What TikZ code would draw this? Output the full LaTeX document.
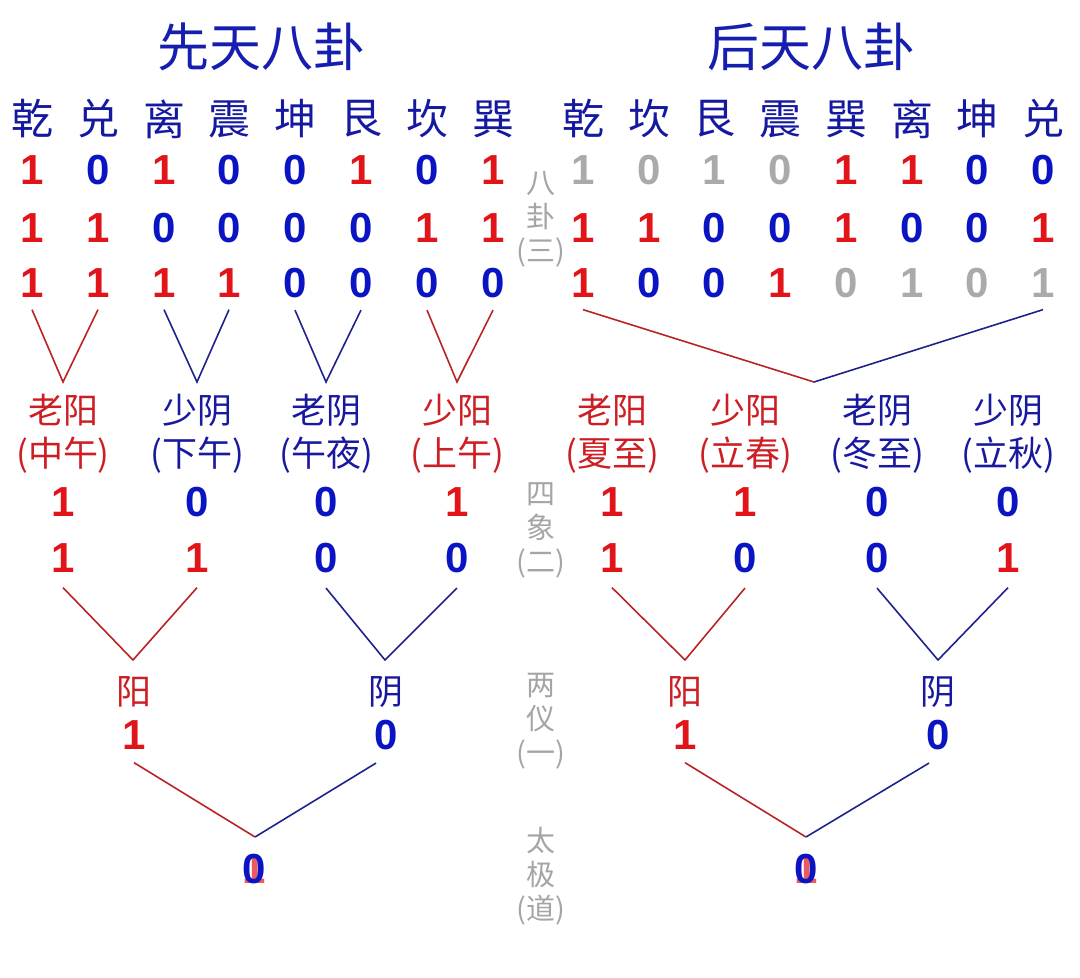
\documentclass[tikz,border=0pt]{standalone}
\usepackage{fontspec}
\setmainfont{Liberation Sans}
\newfontfamily\cjk{Noto Sans CJK SC}
\usepackage{tikz}
\usetikzlibrary{positioning}

\definecolor{titleblue}{RGB}{22,30,175}
\definecolor{nameblue}{RGB}{20,25,160}
\definecolor{numred}{RGB}{225,20,25}
\definecolor{numblue}{RGB}{10,20,195}
\definecolor{fadegray}{RGB}{170,170,170}
\definecolor{labred}{RGB}{205,30,35}
\definecolor{labblue}{RGB}{25,25,160}
\definecolor{linered}{RGB}{185,35,35}
\definecolor{lineblue}{RGB}{30,35,140}
\definecolor{sidegray}{RGB}{165,165,165}

\begin{document}
\begin{tikzpicture}[x=1pt, y=-1pt,
            titel/.style={font=\cjk\fontsize{52}{60}\selectfont, text=titleblue, inner sep=0pt},
            gua/.style={font=\cjk\fontsize{42}{48}\selectfont, text=nameblue, inner sep=0pt},
            yangnum/.style={font=\bfseries\fontsize{42}{48}\selectfont, text=numred, inner sep=0pt},
            yinnum/.style={font=\bfseries\fontsize{42}{48}\selectfont, text=numblue, inner sep=0pt},
            greynum/.style={font=\bfseries\fontsize{42}{48}\selectfont, text=fadegray, inner sep=0pt},
            xiang/.style={font=\cjk\fontsize{35}{43}\selectfont, align=center, inner sep=0pt},
            side/.style={font=\cjk\fontsize{29}{34}\selectfont, text=sidegray, align=center, inner sep=0pt},
            redline/.style={draw=linered, line width=1.6pt},
            blueline/.style={draw=lineblue, line width=1.6pt}
        ]
        \useasboundingbox (0,0) rectangle (1080,978);

        % Titel
        \node[titel] (xtitle) at (261,47) {先天八卦};
        \node[titel] (htitle) at (811,47) {后天八卦};

        % Namen (Xiantian)
        \node[gua] (xg1) at (32,119) {乾};
        \node[gua] (xg2) at (98,119) {兑};
        \node[gua] (xg3) at (164,119) {离};
        \node[gua] (xg4) at (229,119) {震};
        \node[gua] (xg5) at (295,119) {坤};
        \node[gua] (xg6) at (361,119) {艮};
        \node[gua] (xg7) at (427,119) {坎};
        \node[gua] (xg8) at (493,119) {巽};

        % Namen (Houtian)
        \node[gua] (hg1) at (583,119) {乾};
        \node[gua] (hg2) at (649,119) {坎};
        \node[gua] (hg3) at (714,119) {艮};
        \node[gua] (hg4) at (780,119) {震};
        \node[gua] (hg5) at (846,119) {巽};
        \node[gua] (hg6) at (912,119) {离};
        \node[gua] (hg7) at (977,119) {坤};
        \node[gua] (hg8) at (1043,119) {兑};

        % Ziffern (Xiantian)
        \node[yangnum] (xa1) at (32,170) {1};
        \node[yinnum] (xa2) at (98,170) {0};
        \node[yangnum] (xa3) at (164,170) {1};
        \node[yinnum] (xa4) at (229,170) {0};
        \node[yinnum] (xa5) at (295,170) {0};
        \node[yangnum] (xa6) at (361,170) {1};
        \node[yinnum] (xa7) at (427,170) {0};
        \node[yangnum] (xa8) at (493,170) {1};
        \node[yangnum] (xb1) at (32,228) {1};
        \node[yangnum] (xb2) at (98,228) {1};
        \node[yinnum] (xb3) at (164,228) {0};
        \node[yinnum] (xb4) at (229,228) {0};
        \node[yinnum] (xb5) at (295,228) {0};
        \node[yinnum] (xb6) at (361,228) {0};
        \node[yangnum] (xb7) at (427,228) {1};
        \node[yangnum] (xb8) at (493,228) {1};
        \node[yangnum] (xc1) at (32,283) {1};
        \node[yangnum] (xc2) at (98,283) {1};
        \node[yangnum] (xc3) at (164,283) {1};
        \node[yangnum] (xc4) at (229,283) {1};
        \node[yinnum] (xc5) at (295,283) {0};
        \node[yinnum] (xc6) at (361,283) {0};
        \node[yinnum] (xc7) at (427,283) {0};
        \node[yinnum] (xc8) at (493,283) {0};

        % Ziffern (Houtian)
        \node[greynum] (ha1) at (583,170) {1};
        \node[greynum] (ha2) at (649,170) {0};
        \node[greynum] (ha3) at (714,170) {1};
        \node[greynum] (ha4) at (780,170) {0};
        \node[yangnum] (ha5) at (846,170) {1};
        \node[yangnum] (ha6) at (912,170) {1};
        \node[yinnum] (ha7) at (977,170) {0};
        \node[yinnum] (ha8) at (1043,170) {0};
        \node[yangnum] (hb1) at (583,228) {1};
        \node[yangnum] (hb2) at (649,228) {1};
        \node[yinnum] (hb3) at (714,228) {0};
        \node[yinnum] (hb4) at (780,228) {0};
        \node[yangnum] (hb5) at (846,228) {1};
        \node[yinnum] (hb6) at (912,228) {0};
        \node[yinnum] (hb7) at (977,228) {0};
        \node[yangnum] (hb8) at (1043,228) {1};
        \node[yangnum] (hc1) at (583,283) {1};
        \node[yinnum] (hc2) at (649,283) {0};
        \node[yinnum] (hc3) at (714,283) {0};
        \node[yangnum] (hc4) at (780,283) {1};
        \node[greynum] (hc5) at (846,283) {0};
        \node[greynum] (hc6) at (912,283) {1};
        \node[greynum] (hc7) at (977,283) {0};
        \node[greynum] (hc8) at (1043,283) {1};

        % Seitenbeschriftung
        \node[side] (s3) at (541,219) {八\\卦\\(三)};
        \node[side] (s2) at (541,530) {四\\象\\(二)};
        \node[side] (s1) at (541,721) {两\\仪\\(一)};
        \node[side] (s0) at (541,876) {太\\极\\(道)};

        % Sixiang (Xiantian)
        \node[xiang, text=labred] (xs1) at (63,434) {老阳\\(中午)};
        \node[xiang, text=labblue] (xs2) at (197,434) {少阴\\(下午)};
        \node[xiang, text=labblue] (xs3) at (326,434) {老阴\\(午夜)};
        \node[xiang, text=labred] (xs4) at (457,434) {少阳\\(上午)};
        \node[yangnum] (xsa1) at (63,502) {1};
        \node[yinnum] (xsa2) at (197,502) {0};
        \node[yinnum] (xsa3) at (326,502) {0};
        \node[yangnum] (xsa4) at (457,502) {1};
        \node[yangnum] (xsb1) at (63,558) {1};
        \node[yangnum] (xsb2) at (197,558) {1};
        \node[yinnum] (xsb3) at (326,558) {0};
        \node[yinnum] (xsb4) at (457,558) {0};

        % Sixiang (Houtian)
        \node[xiang, text=labred] (hs1) at (612,434) {老阳\\(夏至)};
        \node[xiang, text=labred] (hs2) at (745,434) {少阳\\(立春)};
        \node[xiang, text=labblue] (hs3) at (877,434) {老阴\\(冬至)};
        \node[xiang, text=labblue] (hs4) at (1008,434) {少阴\\(立秋)};
        \node[yangnum] (hsa1) at (612,502) {1};
        \node[yangnum] (hsa2) at (745,502) {1};
        \node[yinnum] (hsa3) at (877,502) {0};
        \node[yinnum] (hsa4) at (1008,502) {0};
        \node[yangnum] (hsb1) at (612,558) {1};
        \node[yinnum] (hsb2) at (745,558) {0};
        \node[yinnum] (hsb3) at (877,558) {0};
        \node[yangnum] (hsb4) at (1008,558) {1};

        % Liangyi
        \node[xiang, text=labred] (xl1) at (134,692) {阳};
        \node[xiang, text=labblue] (xl2) at (386,692) {阴};
        \node[yangnum] (xn1) at (134,735) {1};
        \node[yinnum] (xn2) at (386,735) {0};
        \node[xiang, text=labred] (hl1) at (685,692) {阳};
        \node[xiang, text=labblue] (hl2) at (938,692) {阴};
        \node[yangnum] (hn1) at (685,735) {1};
        \node[yinnum] (hn2) at (938,735) {0};

        % Taiji
        \node[yangnum, anchor=base, text opacity=0.7] (xtai1) at (254,883) {1};
        \node[yinnum, anchor=base] (xtai) at (254,883) {0};
        \node[yangnum, anchor=base, text opacity=0.7] (htai1) at (806,883) {1};
        \node[yinnum, anchor=base] (htai) at (806,883) {0};

        % Knickpunkte
        \coordinate (xv1) at (63,382);
        \coordinate (xv2) at (197,382);
        \coordinate (xv3) at (326,382);
        \coordinate (xv4) at (457,382);
        \coordinate (hv) at (814,382);
        \coordinate (xw1) at (133,660);
        \coordinate (xw2) at (385,660);
        \coordinate (hw1) at (685,660);
        \coordinate (hw2) at (938,660);
        \coordinate (xroot) at (255,837);
        \coordinate (hroot) at (806,837);

        % Kanten
        \draw[redline] ([yshift=-12pt]xc1.south) -- (xv1) -- ([yshift=-12pt]xc2.south);
        \draw[blueline] ([yshift=-12pt]xc3.south) -- (xv2) -- ([yshift=-12pt]xc4.south);
        \draw[blueline] ([yshift=-12pt]xc5.south) -- (xv3) -- ([yshift=-12pt]xc6.south);
        \draw[redline] ([yshift=-12pt]xc7.south) -- (xv4) -- ([yshift=-12pt]xc8.south);
        \draw[redline] ([yshift=-12pt]hc1.south) -- (hv);
        \draw[blueline] (hv) -- ([yshift=-12pt]hc8.south);

        \draw[redline] ([yshift=-15pt]xsb1.south) -- (xw1) -- ([yshift=-15pt]xsb2.south);
        \draw[blueline] ([yshift=-15pt]xsb3.south) -- (xw2) -- ([yshift=-15pt]xsb4.south);
        \draw[redline] ([yshift=-15pt]hsb1.south) -- (hw1) -- ([yshift=-15pt]hsb2.south);
        \draw[blueline] ([yshift=-15pt]hsb3.south) -- (hw2) -- ([yshift=-15pt]hsb4.south);

        \draw[redline] ([yshift=-13pt]xn1.south) -- (xroot);
        \draw[blueline] (xroot) -- ([yshift=-13pt, xshift=-10pt]xn2.south);
        \draw[redline] ([yshift=-13pt]hn1.south) -- (hroot);
        \draw[blueline] (hroot) -- ([yshift=-13pt, xshift=-9pt]hn2.south);

    \end{tikzpicture}
\end{document}
